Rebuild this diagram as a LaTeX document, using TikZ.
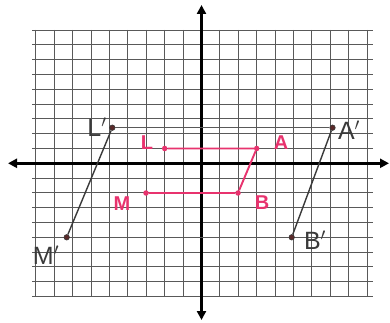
\documentclass[tikz,border=0pt]{standalone}
\usepackage{fontspec}
\setmainfont{Liberation Sans}
\usetikzlibrary{arrows.meta}
\definecolor{pinkink}{HTML}{E8336E}
\definecolor{darkink}{HTML}{3A3A3A}
\definecolor{dotink}{HTML}{5A2A2A}
\tikzset{
  gridline/.style={line width=0.85pt, draw=black!65},
  axisline/.style={line width=2.4pt, draw=black, {Triangle[length=9pt,width=9pt]}-{Triangle[length=9pt,width=9pt]}},
  pinkdot/.style={circle, fill=pinkink, inner sep=0pt, minimum size=5.5pt},
  darkdot/.style={circle, fill=dotink, draw=darkink, line width=0.6pt, inner sep=0pt, minimum size=5.5pt},
  pinkside/.style={line width=1.9pt, draw=pinkink},
  slantside/.style={line width=1.4pt, draw=darkink},
  flatside/.style={line width=1.1pt, draw=black!65},
  pinklabel/.style={text=pinkink, font=\bfseries\fontsize{20}{20}\selectfont, inner sep=0pt},
  darklabel/.style={text=darkink, font=\fontsize{25}{25}\selectfont, inner sep=0pt},
}
\begin{document}
\begin{tikzpicture}[x=1pt,y=-1pt]
\useasboundingbox (0,0) rectangle (390,323);
\fill[white] (0,0) rectangle (390,323);
% grid
\foreach \k in {-9,...,-1,1,2,...,9}{
  \draw[gridline] ({201.5+18.4*\k},30) -- ({201.5+18.4*\k},297);
}
\foreach \k in {-9,...,-1,1,2,...,9}{
  \draw[gridline] (32,{163.3-14.8*\k}) -- (373,{163.3-14.8*\k});
}
% axes
\coordinate (xl) at (8,163.3);
\coordinate (xr) at (389,163.3);
\coordinate (yt) at (201.5,5);
\coordinate (yb) at (201.5,320);
\draw[axisline] (xl) -- (xr);
\draw[axisline] (yb) -- (yt);
% original figure
\node[pinkdot] (L) at (164.7,148.5) {};
\node[pinkdot] (A) at (256.7,148.5) {};
\node[pinkdot] (B) at (238,193) {};
\node[pinkdot] (M) at (146,193) {};
\draw[pinkside] (L) -- (A) -- (B) -- (M) -- cycle;
% image
\node[darkdot] (Lp) at (112.3,127.7) {};
\node[darkdot] (Ap) at (332.5,127.7) {};
\node[darkdot] (Bp) at (291.7,237.3) {};
\node[darkdot] (Mp) at (66.7,237.3) {};
\draw[flatside] (Lp) -- (Ap);
\draw[flatside] (Mp) -- (Bp);
\draw[slantside] (Lp) -- (Mp);
\draw[slantside] (Ap) -- (Bp);
% labels
\node[pinklabel] (tL) at (147,143) {L};
\node[pinklabel] (tA) at (281,143) {A};
\node[pinklabel] (tM) at (122,204) {M};
\node[pinklabel] (tB) at (262,203) {B};
\node[darklabel] (tLp) at (97,127) {L$'$};
\node[darklabel] (tAp) at (349,130) {A$'$};
\node[darklabel] (tMp) at (46,255) {M$'$};
\node[darklabel] (tBp) at (315,240) {B$'$};
\end{tikzpicture}
\end{document}
